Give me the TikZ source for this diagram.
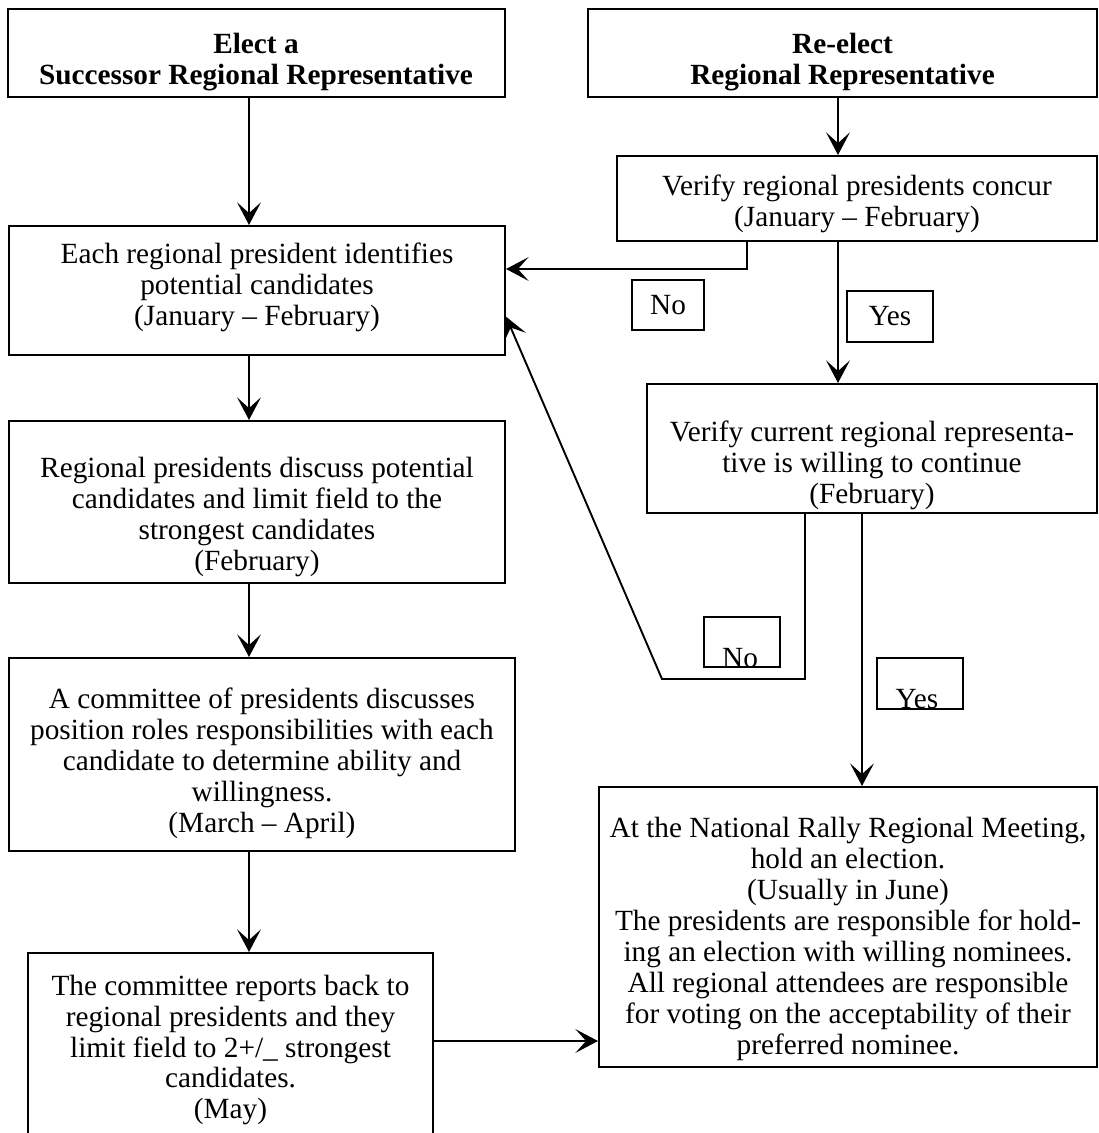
\documentclass[tikz,border=0pt]{standalone}
\usepackage{fontspec}
\setmainfont{Liberation Serif}
\usetikzlibrary{arrows.meta,positioning}
\tikzset{
    box/.style n args={2}{draw=black,line width=0.85pt,minimum width=#1*0.42pt,minimum height=#2*0.42pt},
    txt/.style={align=center},
    head/.style={align=center,font=\fontsize{12.3}{13}\selectfont\bfseries},
    arr/.style={draw=black,line width=0.8pt,-{Stealth[length=9.5pt,width=10pt,inset=4.5pt]}}
}
\begin{document}
\begin{tikzpicture}[x=0.42pt,y=0.42pt,every node/.style={inner sep=0pt,font=\fontsize{12.3}{13}\selectfont}]
                \clip (0,0) rectangle (1099,-1133);
                \node[box={497}{88}] (elect) at (256.5,-53) {};
                \node[head] (electT) at (256,-62.5) {Elect a\\Successor Regional Representative};
                \node[box={509}{88}] (reelect) at (842.5,-53) {};
                \node[head] (reelectT) at (842.5,-62.5) {Re-elect\\Regional Representative};
                \node[box={480}{85}] (concur) at (857,-198.5) {};
                \node[txt] (concurT) at (857,-203.5) {Verify regional presidents concur\\(January – February)};
                \node[box={496}{129}] (identify) at (257,-290.5) {};
                \node[txt] (identifyT) at (257,-287) {Each regional president identifies\\potential candidates\\(January – February)};
                \node[box={450}{129}] (willing) at (872,-448.5) {};
                \node[txt] (willingT) at (872,-465) {Verify current regional representa-\\tive is willing to continue\\(February)};
                \node[box={496}{162}] (discuss) at (257,-502) {};
                \node[txt] (discussT) at (257,-517) {Regional presidents discuss potential\\candidates and limit field to the\\strongest candidates\\(February)};
                \node[box={506}{193}] (committee) at (262,-754.5) {};
                \node[txt] (committeeT) at (262,-763) {A committee of presidents discusses\\position roles responsibilities with each\\candidate to determine ability and\\willingness.\\(March – April)};
                \node[box={498}{280}] (hold) at (848,-927) {};
                \node[txt] (holdT) at (848,-939) {At the National Rally Regional Meeting,\\hold an election.\\(Usually in June)\\The presidents are responsible for hold-\\ing an election with willing nominees.\\All regional attendees are responsible\\for voting on the acceptability of their\\preferred nominee.};
                \node[box={405}{197}] (report) at (230.5,-1051.5) {};
                \node[txt] (reportT) at (230.5,-1050) {The committee reports back to\\regional presidents and they\\limit field to 2+/\_ strongest\\candidates.\\(May)};
                \node[box={72}{50}] (no1) at (668,-305) {No};
                \node[box={86}{51}] (yes1) at (890,-316.5) {Yes};
                \node[box={76}{50}] (no2) at (742,-642) {};
                \node[anchor=base] (no2T) at (740,-667) {No};
                \node[box={86}{51}] (yes2) at (920,-683.5) {};
                \node[anchor=base] (yes2T) at (917,-708) {Yes};
                \coordinate (colL) at (249,0);
                \coordinate (colR) at (838,0);
                \coordinate (noUp) at (747,-269);
                \coordinate (noDn1) at (805,-679);
                \coordinate (noDn2) at (662,-679);
                \coordinate (yesDn) at (862,0);
                \coordinate (io) at (0,-1041);
                \draw[arr] (elect.south -| colL) -- (identify.north -| colL);
                \draw[arr] (identify.south -| colL) -- (discuss.north -| colL);
                \draw[arr] (discuss.south -| colL) -- (committee.north -| colL);
                \draw[arr] (committee.south -| colL) -- (report.north -| colL);
                \draw[arr] (reelect.south -| colR) -- (concur.north -| colR);
                \draw[arr] (concur.south -| colR) -- (willing.north -| colR);
                \draw[arr] (concur.south -| noUp) -- (noUp) -- (identify.east |- noUp);
                \draw[arr] (willing.south -| noDn1) -- (noDn1) -- (noDn2) -- (identify.-6.5);
                \draw[arr] (willing.south -| yesDn) -- (hold.north -| yesDn);
                \draw[arr] (report.east |- io) -- (hold.west |- io);
\end{tikzpicture}
\end{document}
